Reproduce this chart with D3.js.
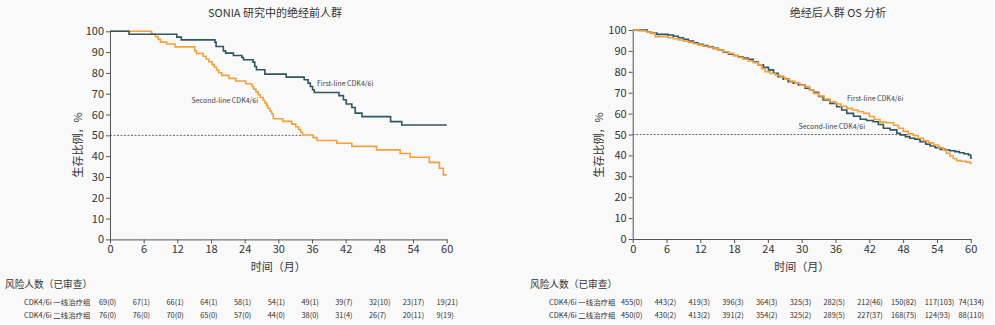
<!DOCTYPE html>
<html>
<head>
<meta charset="utf-8">
<script src="https://cdn.jsdelivr.net/npm/d3@7/dist/d3.min.js"></script>
<style>
  html, body { margin: 0; padding: 0; background: #f9f9f9; }
  svg { display: block; font-family: "Noto Sans CJK SC", "Noto Sans", sans-serif; }
</style>
</head>
<body>
<svg id="chart" width="995" height="325"></svg>
<script>
// ---------- data ----------
const xTicks = [0, 6, 12, 18, 24, 30, 36, 42, 48, 54, 60];
const yTicks = [0, 10, 20, 30, 40, 50, 60, 70, 80, 90, 100];

const leftTitle = "SONIA 研究中的绝经前人群";
const rightTitle = "绝经后人群 OS 分析";
const yLabel = "生存比例，%";
const xLabel = "时间（月）";
const riskHeader = "风险人数（已审查）";
const rowNames = ["CDK4/6i 一线治疗组", "CDK4/6i 二线治疗组"];
const firstLabel = "First-line CDK4/6i";
const secondLabel = "Second-line CDK4/6i";

// Left panel (SONIA premenopausal): [month, survival %]
const leftFirst = [[0,100],[3.4,98.6],[11.9,97.2],[12.7,95.9],[18.7,94.8],[18.9,92.7],[20.2,90.6],[20.6,89.5],[22.0,88.4],[23.5,87.4],[23.8,86.3],[25.5,85.2],[25.8,83.1],[26.1,81.5],[27.6,79.4],[31.4,78.0],[34.6,76.7],[35.3,75.1],[35.7,73.5],[36.1,71.9],[36.4,70.6],[40.8,69.1],[41.6,67.1],[42.1,65.1],[43.1,63.4],[43.7,60.7],[44.9,59.0],[50.0,56.6],[52.0,55.0],[60,55.0]];
const leftSecond = [[0,100],[7.4,98.7],[8.1,97.4],[8.6,96.1],[9.0,94.8],[10.1,93.9],[11.6,92.5],[15.1,90.6],[15.4,89.3],[16.6,88.0],[17.1,86.7],[17.6,85.4],[18.2,84.0],[18.6,82.7],[19.0,81.4],[19.4,80.1],[19.9,78.8],[21.2,77.4],[22.4,76.1],[24.2,74.8],[25.3,73.5],[25.6,72.2],[26.0,70.9],[26.4,69.5],[26.8,68.2],[27.3,66.9],[27.6,65.6],[27.9,64.3],[28.1,63.0],[28.5,61.7],[28.8,60.4],[29.1,58.0],[30.8,56.7],[32.4,55.4],[33.1,54.1],[33.6,52.8],[34.0,51.5],[34.3,50.2],[36.2,48.9],[36.9,47.5],[40.4,46.2],[43.1,44.7],[47.5,43.0],[51.7,41.3],[53.5,39.5],[56.9,37.0],[58.7,34.2],[59.4,31.0],[60,31.0]];
const leftMedianT = 34.3;

// Right panel (postmenopausal OS): [month, survival %]
const rightDark = [[0,100],[2.6,99.0],[3.2,98.6],[4.3,97.9],[6.3,97.6],[7.2,97.0],[8.1,96.3],[9.0,95.5],[9.9,94.7],[10.8,93.9],[11.6,93.2],[12.5,92.6],[13.4,92.0],[14.3,91.2],[15.2,90.4],[16.1,89.4],[17.0,88.4],[17.9,87.8],[18.7,87.2],[19.6,86.6],[20.5,86.0],[21.4,84.7],[22.3,83.3],[23.2,82.1],[24.1,80.9],[25.0,79.3],[25.8,77.7],[26.7,76.5],[27.6,75.3],[28.5,74.5],[29.4,73.7],[30.6,72.1],[31.4,71.2],[32.1,70.2],[33.0,68.2],[33.8,66.5],[35.0,64.9],[36.2,63.3],[37.1,61.7],[38.0,60.1],[39.2,58.7],[40.4,57.3],[41.5,56.7],[42.7,56.1],[43.6,54.8],[44.5,53.0],[45.7,52.2],[46.9,50.6],[47.5,49.8],[48.4,49.0],[49.2,48.2],[50.1,47.8],[51.0,46.6],[52.0,45.4],[52.8,44.5],[53.7,43.7],[54.6,42.9],[55.5,42.6],[56.3,42.2],[57.2,41.8],[58.0,41.3],[58.8,40.8],[59.6,40.2],[60.0,38.8],[60.2,38.8]];
const rightOrange = [[0,100],[1.0,99.7],[1.6,99.5],[2.5,99.0],[3.4,98.4],[4.0,96.8],[6.3,96.3],[7.2,95.8],[8.1,95.2],[9.0,94.6],[9.9,94.1],[10.8,93.4],[11.6,92.8],[12.5,92.2],[13.4,91.7],[14.3,91.0],[15.2,90.4],[16.1,89.6],[17.0,88.8],[17.9,87.8],[18.7,86.9],[19.6,86.0],[20.5,85.2],[21.4,84.3],[22.3,83.3],[22.9,81.5],[23.5,80.0],[24.4,79.2],[25.3,78.5],[26.1,77.5],[27.0,76.4],[27.9,75.4],[28.8,74.5],[29.7,73.6],[30.6,72.9],[31.4,71.2],[32.1,69.7],[33.0,68.4],[34.0,67.0],[35.0,65.7],[36.0,64.6],[37.0,63.5],[38.0,62.5],[39.0,61.7],[40.0,60.9],[41.0,60.1],[42.0,58.6],[42.9,57.2],[43.9,55.9],[45.0,55.6],[46.3,54.4],[47.2,53.0],[48.0,51.5],[48.9,50.3],[49.8,49.5],[50.7,48.2],[51.6,47.0],[52.5,46.0],[53.4,45.0],[54.3,43.8],[55.1,42.6],[55.7,41.0],[56.3,39.7],[56.9,38.5],[57.5,37.5],[58.3,37.2],[59.2,36.8],[59.9,36.3],[60.2,36.3]];
const rightMedianT = 48.9;

// Numbers at risk (censored)
const leftRiskFirst = ["69(0)","67(1)","66(1)","64(1)","58(1)","54(1)","49(1)","39(7)","32(10)","23(17)","19(21)"];
const leftRiskSecond = ["76(0)","76(0)","70(0)","65(0)","57(0)","44(0)","38(0)","31(4)","26(7)","20(11)","9(19)"];
const rightRiskFirst = ["455(0)","443(2)","419(3)","396(3)","364(3)","325(3)","282(5)","212(46)","150(82)","117(103)","74(134)"];
const rightRiskSecond = ["450(0)","430(2)","413(2)","391(2)","354(2)","325(2)","289(5)","227(37)","168(75)","124(93)","88(110)"];

// ---------- drawing ----------
const svg = d3.select("#chart");
const DARK = "#2f5662";
const ORANGE = "#f4a03c";
const TEXT = "#333";

function panel(cfg) {
  const g = svg.append("g");
  const x = d3.scaleLinear().domain([0, 60]).range([cfg.x0, cfg.x1]);
  const y = d3.scaleLinear().domain([0, 100]).range([cfg.yb, cfg.yt]);

  // title
  g.append("text").attr("x", cfg.titleX).attr("y", 17)
    .attr("text-anchor", "middle").attr("font-size", 11).attr("fill", TEXT)
    .text(cfg.title);

  // dashed median line
  g.append("line")
    .attr("x1", x(0)).attr("x2", x(cfg.medianT))
    .attr("y1", y(50)).attr("y2", y(50))
    .attr("stroke", "#444").attr("stroke-width", 0.8)
    .attr("stroke-dasharray", "2,1.5");

  // axes
  const ax = g.append("g").attr("transform", `translate(0,${cfg.yb})`)
    .call(d3.axisBottom(x).tickValues(xTicks).tickSize(4).tickSizeOuter(0).tickPadding(2));
  const ay = g.append("g").attr("transform", `translate(${cfg.x0},0)`)
    .call(d3.axisLeft(y).tickValues(yTicks).tickSize(4).tickSizeOuter(0).tickPadding(2));
  [ax, ay].forEach(a => {
    a.selectAll("path,line").attr("stroke", "#555").attr("stroke-width", 1);
    a.selectAll("text").attr("font-size", 11).attr("fill", TEXT)
      .attr("font-family", "'Noto Sans CJK SC', sans-serif");
  });

  // axis labels
  g.append("text")
    .attr("transform", `translate(${cfg.yLabelX},145) rotate(-90)`)
    .attr("text-anchor", "middle").attr("dominant-baseline", "central")
    .attr("font-size", 11).attr("fill", TEXT).text(yLabel);
  g.append("text").attr("x", (cfg.x0 + cfg.x1) / 2).attr("y", 271)
    .attr("text-anchor", "middle").attr("font-size", 11).attr("fill", TEXT)
    .text(xLabel);

  // curves
  const line = d3.line().x(d => x(d[0])).y(d => y(d[1])).curve(d3.curveStepAfter);
  cfg.series.forEach(s => {
    g.append("path").datum(s.data).attr("d", line)
      .attr("fill", "none").attr("stroke", s.color).attr("stroke-width", 1.6)
      .attr("stroke-linejoin", "miter");
  });

  // curve labels
  cfg.labels.forEach(l => {
    g.append("text").attr("x", l.x).attr("y", l.y)
      .attr("font-size", 7).attr("fill", "#444").attr("dominant-baseline", "central")
      .text(l.text);
  });

  // risk table
  g.append("text").attr("x", cfg.riskX).attr("y", 284)
    .attr("dominant-baseline", "central")
    .attr("font-size", 9.7).attr("fill", TEXT).text(riskHeader);
  const col = d3.scaleLinear().domain([0, 10]).range([cfg.riskV0, cfg.riskV0 + 337.5]);
  [cfg.riskFirst, cfg.riskSecond].forEach((row, ri) => {
    const yy = 301 + ri * 13;
    g.append("text").attr("x", cfg.riskX + 19).attr("y", yy)
      .attr("dominant-baseline", "central")
      .attr("font-size", 7.4).attr("fill", TEXT).text(rowNames[ri]);
    g.selectAll(null).data(row).enter().append("text")
      .attr("x", (d, i) => col(i)).attr("y", yy)
      .attr("dominant-baseline", "central")
      .attr("font-size", 7.4).attr("fill", TEXT).text(d => d);
  });
}

panel({
  title: leftTitle, titleX: 275,
  x0: 110, x1: 446.7, yb: 239.4, yt: 31.3, yLabelX: 77,
  medianT: leftMedianT,
  series: [{data: leftSecond, color: ORANGE}, {data: leftFirst, color: DARK}],
  labels: [{text: firstLabel, x: 317, y: 82.5}, {text: secondLabel, x: 191.5, y: 99.5}],
  riskX: 5, riskV0: 99,
  riskFirst: leftRiskFirst, riskSecond: leftRiskSecond
});

panel({
  title: rightTitle, titleX: 838,
  x0: 632.7, x1: 970.7, yb: 239, yt: 30, yLabelX: 598,
  medianT: rightMedianT,
  series: [{data: rightDark, color: DARK}, {data: rightOrange, color: ORANGE}],
  labels: [{text: firstLabel, x: 847, y: 97.5}, {text: secondLabel, x: 798.5, y: 125.5}],
  riskX: 530, riskV0: 621,
  riskFirst: rightRiskFirst, riskSecond: rightRiskSecond
});
</script>
</body>
</html>
